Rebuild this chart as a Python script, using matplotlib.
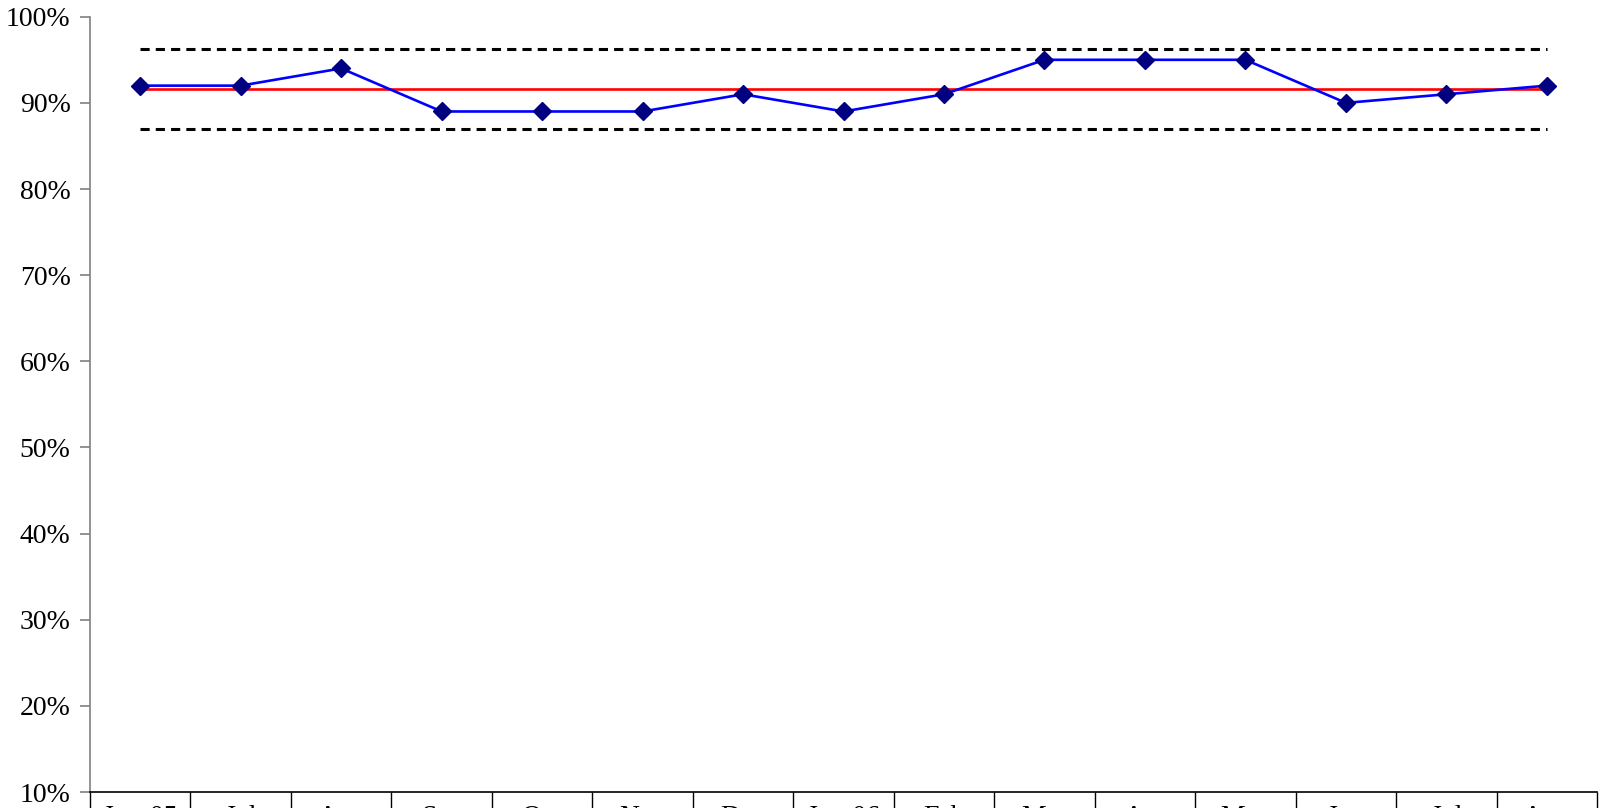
import numpy as np
import matplotlib.pyplot as plt

# Datos del gráfico de control
meses = ['Jun-05', 'Jul', 'Aug', 'Sep', 'Oct', 'Nov', 'Dec', 'Jan-06',
         'Feb', 'Mar', 'Apr', 'May', 'Jun', 'Jul', 'Aug']
valores = [92, 92, 94, 89, 89, 89, 91, 89, 91, 95, 95, 95, 90, 91, 92]
media = 91.6
lsc = 96.25
lic = 86.95

plt.rcParams['font.family'] = ['Liberation Serif', 'DejaVu Serif']

fig = plt.figure(figsize=(16.02, 8.08), dpi=100)
ax = fig.add_axes([0.0562, 0.0198, 0.9407, 0.9595])

x = np.arange(len(meses))
n = len(meses)

ax.plot([x[0], x[-1]], [lsc, lsc], color='black', lw=2.2, linestyle=(0, (3, 2)))
ax.plot([x[0], x[-1]], [lic, lic], color='black', lw=2.2, linestyle=(0, (3, 2)))
ax.plot([x[0], x[-1]], [media, media], color='red', lw=1.9)
ax.plot(x, valores, color='#0000FF', lw=1.9, marker='D', markersize=9.5,
        markerfacecolor='#000080', markeredgecolor='#000080', zorder=5)

ax.set_xlim(-0.5, n - 0.5)
ax.set_ylim(10, 100)
ax.set_yticks(range(10, 101, 10))
ax.set_yticklabels([f'{v}%' for v in range(10, 101, 10)], fontsize=20)

# Separadores de categorías tipo Excel
ax.set_xticks(np.arange(-0.5, n, 1))
ax.set_xticklabels([])
ax.tick_params(axis='x', which='major', length=20, width=1, direction='out')
ax.set_xticks(x, minor=True)
ax.set_xticklabels(meses, minor=True, fontsize=20)
ax.tick_params(axis='x', which='minor', length=0, pad=9)

ax.tick_params(axis='y', length=7, width=1.2, color='#808080', pad=7)
ax.spines['top'].set_visible(False)
ax.spines['right'].set_visible(False)
ax.spines['left'].set_color('#808080')
ax.spines['left'].set_linewidth(1.2)
ax.spines['bottom'].set_color('black')
ax.spines['bottom'].set_linewidth(1.2)

fig.savefig('out.png', dpi=100)
plt.close()
